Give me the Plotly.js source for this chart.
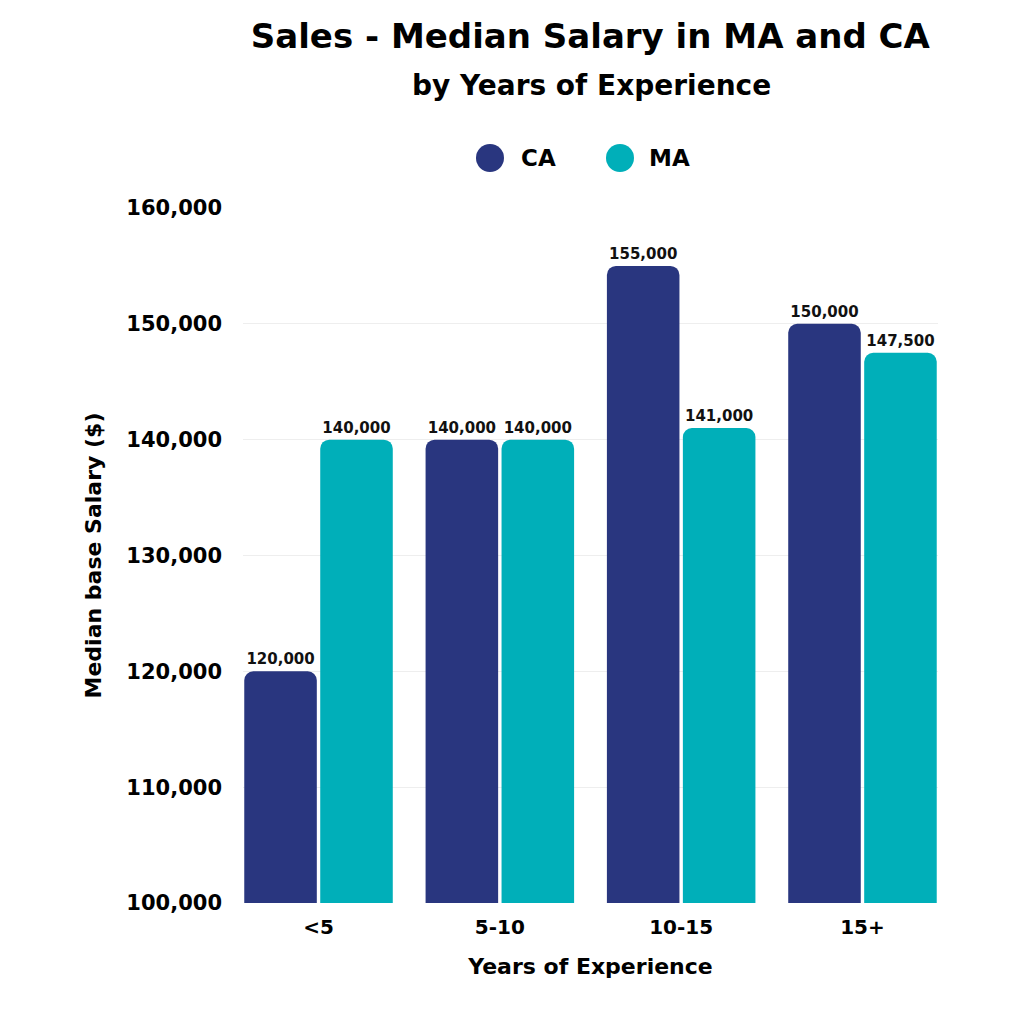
<!DOCTYPE html>
<html>
<head>
<meta charset="utf-8">
<script src="https://cdn.plot.ly/plotly-3.0.1.min.js"></script>
<style>
  html, body { margin: 0; padding: 0; background: #ffffff; }
  #chart { width: 1024px; height: 1024px; }
</style>
</head>
<body>
<div id="chart"></div>
<script>
// Median base salary by years of experience
const categories = ['<5', '5-10', '10-15', '15+'];
const caValues = [120000, 140000, 155000, 150000];
const maValues = [140000, 140000, 141000, 147500];
const seriesNames = ['CA', 'MA'];
const yTicks = [100000, 110000, 120000, 130000, 140000, 150000, 160000];

const CA_COLOR = '#29367f';
const MA_COLOR = '#00afb9';
const FONT = '"DejaVu Sans", Lato, sans-serif';

function barTrace(name, values, color) {
  return {
    type: 'bar',
    name: name,
    x: categories,
    y: values,
    marker: { color: color, cornerradius: 9 },
    texttemplate: '%{y:,}',
    textposition: 'outside',
    constraintext: 'none',
    cliponaxis: false,
    textfont: { family: FONT, size: 15, color: '#111111', weight: 700 },
    showlegend: false,
    hoverinfo: 'x+y+name'
  };
}

const data = [
  barTrace(seriesNames[0], caValues, CA_COLOR),
  barTrace(seriesNames[1], maValues, MA_COLOR)
];

// Hand-built legend: round swatches with labels
const legendItems = [
  { label: seriesNames[0], color: CA_COLOR, cx: 490, tx: 519 },
  { label: seriesNames[1], color: MA_COLOR, cx: 620, tx: 647 }
];
const legendY = 158;
const shapes = legendItems.map(it => ({
  type: 'circle', xref: 'paper', yref: 'paper', xsizemode: 'pixel', ysizemode: 'pixel',
  xanchor: (it.cx - 243) / 695, yanchor: 1 - (legendY - 208) / 695,
  x0: -14, x1: 14, y0: -14, y1: 14,
  fillcolor: it.color, line: { width: 0 }
}));
const annotations = legendItems.map(it => ({
  xref: 'paper', yref: 'paper',
  x: (it.tx - 243) / 695, y: 1 - (legendY - 208) / 695,
  xanchor: 'left', yanchor: 'middle', showarrow: false,
  text: it.label,
  font: { family: FONT, size: 23, color: '#000000', weight: 700 }
}));

annotations.push({
  xref: 'paper', yref: 'paper', x: (591 - 243) / 695, y: 1 + (208 - 85) / 695,
  xanchor: 'center', yanchor: 'middle', showarrow: false,
  text: 'by Years of Experience',
  font: { family: FONT, size: 28, color: '#000000', weight: 700 }
});

const layout = {
  width: 1024,
  height: 1024,
  paper_bgcolor: '#ffffff',
  plot_bgcolor: '#ffffff',
  margin: { l: 243, r: 86, t: 208, b: 121 },
  font: { family: FONT, color: '#000000' },
  title: {
    text: 'Sales - Median Salary in MA and CA',
    x: 0.5765, xanchor: 'center',
    y: 1 - 36 / 1024, yanchor: 'middle',
    font: { family: FONT, size: 34, color: '#000000', weight: 700 }
  },
  barmode: 'group',
  bargap: 0.162,
  bargroupgap: 0.045,
  xaxis: {
    type: 'category',
    range: [-0.4165, 3.4165],
    showgrid: false,
    zeroline: false,
    showline: false,
    ticks: '',
    tickfont: { family: FONT, size: 20, color: '#000000', weight: 700 },
    ticklabelstandoff: 10,
    title: {
      text: 'Years of Experience',
      standoff: 20,
      font: { family: FONT, size: 22, color: '#000000', weight: 700 }
    }
  },
  yaxis: {
    range: [100000, 160000],
    tickvals: yTicks,
    tickformat: ',d',
    showgrid: true,
    gridcolor: '#eeeeee',
    gridwidth: 1,
    zeroline: false,
    showline: false,
    ticks: '',
    ticklabelstandoff: 20,
    tickfont: { family: FONT, size: 21, color: '#000000', weight: 700 },
    title: {
      text: 'Median base Salary ($)',
      standoff: 18,
      font: { family: FONT, size: 22, color: '#000000', weight: 700 }
    }
  },
  shapes: shapes,
  annotations: annotations
};

Plotly.newPlot('chart', data, layout, { displayModeBar: false, responsive: false });
</script>
</body>
</html>
